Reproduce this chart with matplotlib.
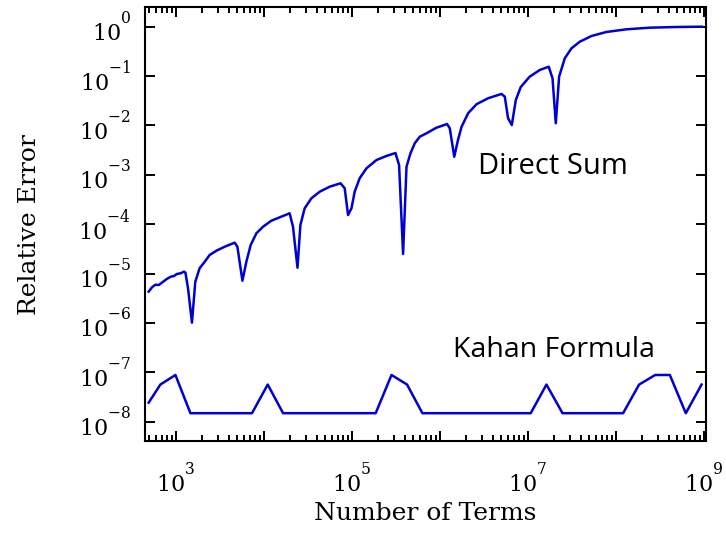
import numpy as np
import matplotlib
matplotlib.use('Agg')
import matplotlib.pyplot as plt
import matplotlib._mathtext as mathtext_internals
from matplotlib.ticker import FixedLocator, FuncFormatter, NullLocator, NullFormatter

# direct (naive) summation
direct_n = [493, 538, 587, 641, 698, 783, 877, 957, 1030, 1140, 1240, 1290,
            1380, 1530, 1670, 1870, 2140, 2430, 2900, 3610, 4680, 5020, 5730,
            6350, 7110, 8260, 9820, 12200, 15900, 19700, 21500, 24200, 26100,
            29200, 34800, 43300, 56200, 74500, 83200, 90800, 99300, 1.08e5,
            1.23e5, 1.47e5, 1.91e5, 2.48e5, 3.14e5, 3.45e5, 3.83e5, 4.19e5,
            4.65e5, 5.20e5, 5.93e5, 7.06e5, 9.16e5, 1.21e6, 1.30e6, 1.46e6,
            1.61e6, 1.77e6, 2.10e6, 2.61e6, 3.54e6, 5.02e6, 5.48e6, 5.97e6,
            6.58e6, 7.31e6, 8.32e6, 1.05e7, 1.37e7, 1.73e7, 1.91e7, 2.08e7,
            2.27e7, 2.63e7, 3.14e7, 3.90e7, 5.30e7, 7.83e7, 1.32e8, 2.43e8,
            4.90e8, 9.5e8]
direct_err = [4.33e-6, 5.31e-6, 5.98e-6, 5.90e-6, 6.58e-6, 7.71e-6, 8.69e-6,
              8.97e-6, 9.86e-6, 1.02e-5, 1.10e-5, 1.05e-5, 5.06e-6, 1.02e-6,
              6.89e-6, 1.29e-5, 1.75e-5, 2.39e-5, 2.92e-5, 3.52e-5, 4.25e-5,
              3.52e-5, 7.21e-6, 1.75e-5, 3.81e-5, 6.58e-5, 8.93e-5, 1.18e-4,
              1.43e-4, 1.67e-4, 8.93e-5, 1.32e-5, 9.68e-5, 2.11e-4, 3.36e-4,
              4.57e-4, 5.77e-4, 6.76e-4, 5.36e-4, 1.54e-4, 2.11e-4, 4.57e-4,
              8.53e-4, 1.36e-3, 2.00e-3, 2.42e-3, 2.77e-3, 1.58e-3, 2.51e-5,
              1.47e-3, 2.74e-3, 4.37e-3, 5.93e-3, 6.95e-3, 9.02e-3, 1.07e-2,
              8.77e-3, 2.33e-3, 5.08e-3, 9.46e-3, 1.77e-2, 2.69e-2, 3.56e-2,
              4.35e-2, 3.83e-2, 1.40e-2, 1.02e-2, 3.28e-2, 6.01e-2, 9.73e-2,
              0.133, 0.155, 9.02e-2, 1.11e-2, 9.73e-2, 0.229, 0.366, 0.497,
              0.649, 0.782, 0.885, 0.955, 0.986, 1.0]

# compensated (Kahan) summation
kahan_n = [493, 670, 993, 1470, 7360, 11100, 16600, 1.87e5, 2.83e5, 4.25e5,
           6.35e5, 1.08e7, 1.63e7, 2.48e7, 1.21e8, 1.84e8, 2.80e8, 4.11e8,
           6.24e8, 9.42e8]
kahan_err = [2.45e-8, 5.7e-8, 8.9e-8, 1.5e-8, 1.5e-8, 5.7e-8, 1.5e-8, 1.5e-8,
             8.9e-8, 5.7e-8, 1.5e-8, 1.5e-8, 5.7e-8, 1.5e-8, 1.5e-8, 5.7e-8,
             8.9e-8, 8.9e-8, 1.5e-8, 5.7e-8]

x_decades = [3, 4, 5, 6, 7, 8, 9]
y_decades = [-8, -7, -6, -5, -4, -3, -2, -1, 0]

plt.rcParams['font.family'] = 'DejaVu Serif'
plt.rcParams['mathtext.fontset'] = 'dejavuserif'
# exponents sit above the digits in the original
for cls in (mathtext_internals.FontConstantsBase,
            mathtext_internals.DejaVuSerifFontConstants,
            mathtext_internals.DejaVuSansFontConstants):
    cls.sup1 = 1.45

fig = plt.figure(figsize=(7.26, 5.34), dpi=100)
ax = fig.add_axes([0.1997, 0.1747, 0.7728, 0.8113])

blue = '#0000d0'
ax.plot(direct_n, direct_err, color=blue, linewidth=1.8)
ax.plot(kahan_n, kahan_err, color=blue, linewidth=1.8)

ax.set_xscale('log')
ax.set_yscale('log')
ax.set_xlim(10 ** 2.651, 10 ** 9.025)
ax.set_ylim(10 ** -8.381, 10 ** 0.389)

minor = [m * 10.0 ** e for e in range(2, 9) for m in range(2, 10)]
minor = [v for v in minor if 10 ** 2.651 < v < 10 ** 9.025]
ax.xaxis.set_major_locator(FixedLocator([10.0 ** e for e in x_decades]))
ax.xaxis.set_minor_locator(FixedLocator(minor))
ax.xaxis.set_minor_formatter(NullFormatter())


def xfmt(v, pos):
    e = int(round(np.log10(v)))
    return r'$\mathregular{10^{%d}}$' % e if e % 2 == 1 else ''


def yfmt(v, pos):
    e = int(round(np.log10(v)))
    return r'$\mathregular{10^{%d}}$' % e


ax.xaxis.set_major_formatter(FuncFormatter(xfmt))
ax.yaxis.set_major_locator(FixedLocator([10.0 ** e for e in y_decades]))
ax.yaxis.set_minor_locator(NullLocator())
ax.yaxis.set_major_formatter(FuncFormatter(yfmt))

for s in ax.spines.values():
    s.set_linewidth(1.5)
ax.tick_params(which='both', direction='in', top=True, right=True, width=1.4)
ax.tick_params(which='major', length=7.5)
ax.tick_params(which='minor', length=4)
ax.tick_params(axis='y', labelsize=16, pad=10)
ax.tick_params(axis='x', labelsize=16, pad=16)

ax.set_xlabel('Number of Terms', fontsize=18)
ax.xaxis.set_label_coords(0.5, -0.142)
ax.set_ylabel('Relative Error', fontsize=18)
ax.yaxis.set_label_coords(-0.185, 0.5)

ax.text(2.7e6, 1.04e-3, 'Direct Sum', fontsize=21, family='Open Sans',
        ha='left', va='baseline')
ax.text(1.41e6, 2.06e-7, 'Kahan Formula', fontsize=20.5, family='Open Sans',
        ha='left', va='baseline')

fig.savefig('out.png', dpi=100)
